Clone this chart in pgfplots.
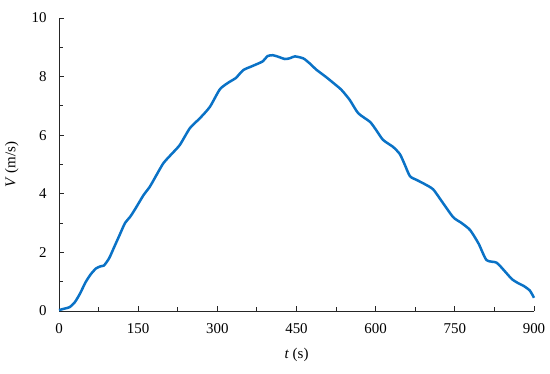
\documentclass[border=0pt]{standalone}
\usepackage{fontspec}
\setmainfont{Liberation Serif}
\usepackage{pgfplots}
\pgfplotsset{compat=1.18}
\definecolor{vblue}{HTML}{0A72C6}
\definecolor{axgrey}{HTML}{262626}

\begin{document}
\begin{tikzpicture}
\useasboundingbox (-59bp,-63bp) rectangle (491bp,311bp);
\begin{axis}[
  scale only axis, width=475bp, height=293bp,
  xmin=0, xmax=900, ymin=0, ymax=10,
  axis x line*=bottom, axis y line*=left,
  axis line style={axgrey, line width=0.9bp},
  xtick={0,150,...,900}, ytick={0,2,...,10},
  minor tick num=1,
  tick align=inside,
  major tick length=4.5bp, minor tick length=3.5bp,
  tick style={axgrey, line width=0.9bp},
  every tick label/.append style={font=\fontsize{15}{17}\selectfont, text=black},
  /pgf/number format/assume math mode=true,
  /pgf/number format/1000 sep={},
  xlabel={\textit{t} (s)}, ylabel={\textit{V} (m/s)},
  label style={font=\fontsize{15}{17}\selectfont},
  xlabel style={at={(axis description cs:0.5,0)}, anchor=north, yshift=-34bp},
  ylabel style={at={(axis description cs:0,0.5)}, anchor=south, yshift=37bp},
  yticklabel style={xshift=-9bp},
  xticklabel style={yshift=-9bp},
  clip=false]
\addplot[vblue, line width=2.5bp, smooth, tension=0.4] coordinates {
 (0,0.03) (10,0.08) (20,0.13) (30,0.3) (40,0.6) (50,0.97) (60,1.25) (70,1.45)
 (78,1.52) (85,1.55) (95,1.8) (105,2.2) (115,2.6) (125,3.0) (135,3.22) (145,3.5)
 (160,3.95) (172,4.24) (185,4.65) (198,5.05) (213,5.35) (229,5.67) (248,6.24)
 (267,6.58) (286,6.97) (305,7.57) (324,7.83) (335,7.95) (349,8.22) (365,8.35)
 (386,8.52) (395,8.7) (405,8.73) (415,8.68) (428,8.6) (438,8.63) (447,8.69)
 (463,8.62) (475,8.45) (488,8.23) (505,8.0) (520,7.78) (535,7.55) (551,7.2)
 (567,6.75) (589,6.46) (600,6.2) (614,5.84) (633,5.6) (646,5.35) (655,5.0)
 (665,4.6) (678,4.47) (693,4.33) (709,4.15) (725,3.75) (747,3.2) (763,3.0)
 (779,2.76) (795,2.3) (810,1.74) (829,1.65) (845,1.35) (858,1.09) (870,0.95)
 (880,0.86) (892,0.7) (900,0.45)};
\end{axis}
\end{tikzpicture}
\end{document}
